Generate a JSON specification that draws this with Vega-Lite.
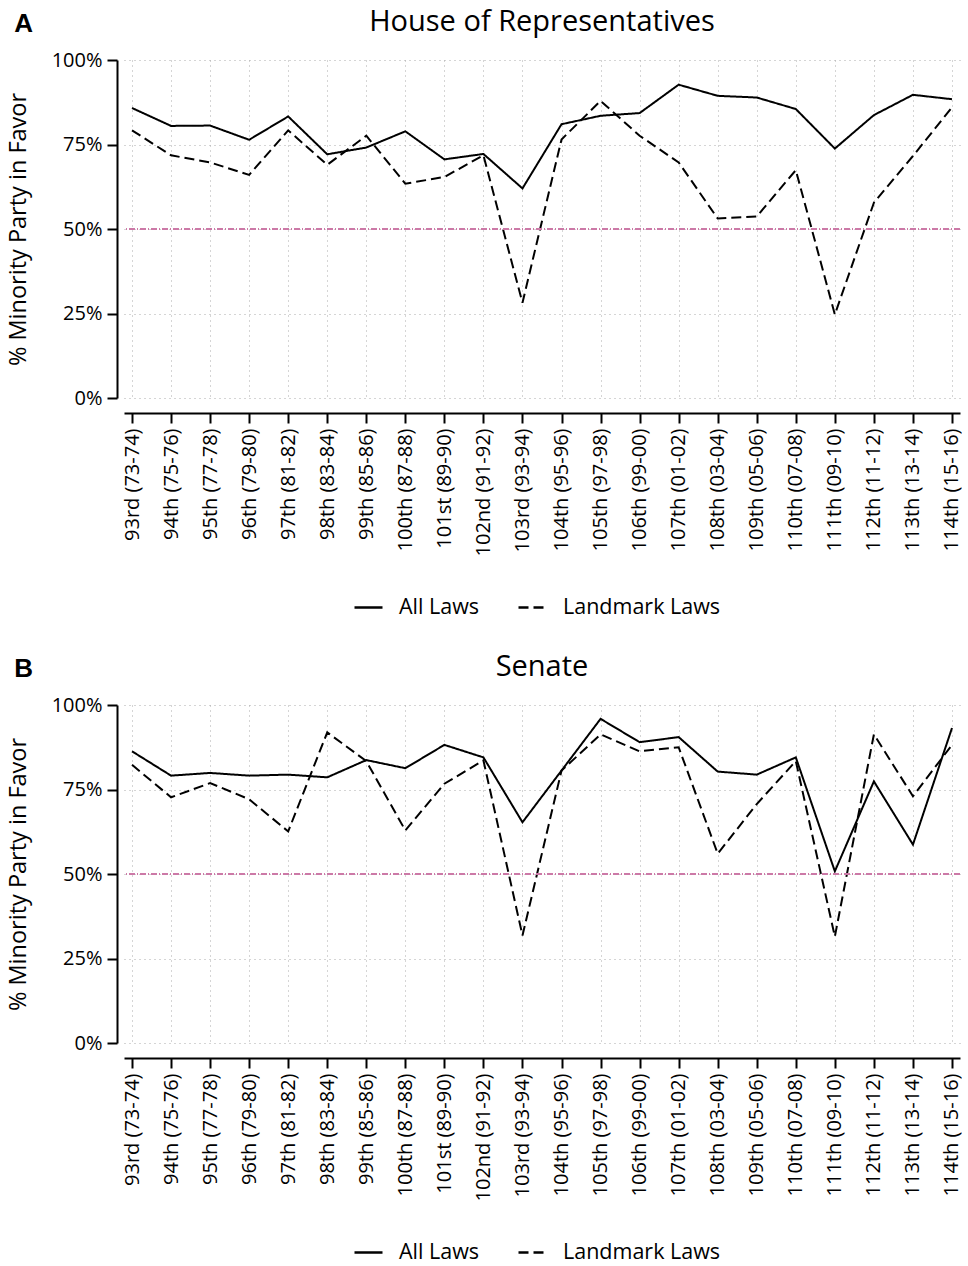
{
  "$schema": "https://vega.github.io/schema/vega-lite/v6.json",
  "padding": {"left": 6, "top": 8, "right": 0, "bottom": 0},
  "datasets": {
    "house": [
      {"congress": "93rd (73-74)", "type": "All Laws", "pct": 85.8},
      {"congress": "94th (75-76)", "type": "All Laws", "pct": 80.5},
      {"congress": "95th (77-78)", "type": "All Laws", "pct": 80.6},
      {"congress": "96th (79-80)", "type": "All Laws", "pct": 76.4},
      {"congress": "97th (81-82)", "type": "All Laws", "pct": 83.3},
      {"congress": "98th (83-84)", "type": "All Laws", "pct": 72.1},
      {"congress": "99th (85-86)", "type": "All Laws", "pct": 74.1},
      {"congress": "100th (87-88)", "type": "All Laws", "pct": 78.9},
      {"congress": "101st (89-90)", "type": "All Laws", "pct": 70.6},
      {"congress": "102nd (91-92)", "type": "All Laws", "pct": 72.2},
      {"congress": "103rd (93-94)", "type": "All Laws", "pct": 62.0},
      {"congress": "104th (95-96)", "type": "All Laws", "pct": 81.0},
      {"congress": "105th (97-98)", "type": "All Laws", "pct": 83.5},
      {"congress": "106th (99-00)", "type": "All Laws", "pct": 84.3},
      {"congress": "107th (01-02)", "type": "All Laws", "pct": 92.7},
      {"congress": "108th (03-04)", "type": "All Laws", "pct": 89.4},
      {"congress": "109th (05-06)", "type": "All Laws", "pct": 88.9},
      {"congress": "110th (07-08)", "type": "All Laws", "pct": 85.5},
      {"congress": "111th (09-10)", "type": "All Laws", "pct": 73.8},
      {"congress": "112th (11-12)", "type": "All Laws", "pct": 83.7},
      {"congress": "113th (13-14)", "type": "All Laws", "pct": 89.7},
      {"congress": "114th (15-16)", "type": "All Laws", "pct": 88.4},
      {"congress": "93rd (73-74)", "type": "Landmark Laws", "pct": 79.2},
      {"congress": "94th (75-76)", "type": "Landmark Laws", "pct": 71.8},
      {"congress": "95th (77-78)", "type": "Landmark Laws", "pct": 69.7},
      {"congress": "96th (79-80)", "type": "Landmark Laws", "pct": 66.0},
      {"congress": "97th (81-82)", "type": "Landmark Laws", "pct": 79.2},
      {"congress": "98th (83-84)", "type": "Landmark Laws", "pct": 69.0},
      {"congress": "99th (85-86)", "type": "Landmark Laws", "pct": 77.6},
      {"congress": "100th (87-88)", "type": "Landmark Laws", "pct": 63.4},
      {"congress": "101st (89-90)", "type": "Landmark Laws", "pct": 65.4},
      {"congress": "102nd (91-92)", "type": "Landmark Laws", "pct": 71.8},
      {"congress": "103rd (93-94)", "type": "Landmark Laws", "pct": 28.2},
      {"congress": "104th (95-96)", "type": "Landmark Laws", "pct": 76.5},
      {"congress": "105th (97-98)", "type": "Landmark Laws", "pct": 87.9},
      {"congress": "106th (99-00)", "type": "Landmark Laws", "pct": 77.6},
      {"congress": "107th (01-02)", "type": "Landmark Laws", "pct": 69.7},
      {"congress": "108th (03-04)", "type": "Landmark Laws", "pct": 53.1},
      {"congress": "109th (05-06)", "type": "Landmark Laws", "pct": 53.7},
      {"congress": "110th (07-08)", "type": "Landmark Laws", "pct": 67.4},
      {"congress": "111th (09-10)", "type": "Landmark Laws", "pct": 24.7},
      {"congress": "112th (11-12)", "type": "Landmark Laws", "pct": 57.8},
      {"congress": "113th (13-14)", "type": "Landmark Laws", "pct": 71.6},
      {"congress": "114th (15-16)", "type": "Landmark Laws", "pct": 86.0}
    ],
    "senate": [
      {"congress": "93rd (73-74)", "type": "All Laws", "pct": 86.3},
      {"congress": "94th (75-76)", "type": "All Laws", "pct": 79.1},
      {"congress": "95th (77-78)", "type": "All Laws", "pct": 79.9},
      {"congress": "96th (79-80)", "type": "All Laws", "pct": 79.1},
      {"congress": "97th (81-82)", "type": "All Laws", "pct": 79.4},
      {"congress": "98th (83-84)", "type": "All Laws", "pct": 78.6},
      {"congress": "99th (85-86)", "type": "All Laws", "pct": 83.7},
      {"congress": "100th (87-88)", "type": "All Laws", "pct": 81.3},
      {"congress": "101st (89-90)", "type": "All Laws", "pct": 88.2},
      {"congress": "102nd (91-92)", "type": "All Laws", "pct": 84.5},
      {"congress": "103rd (93-94)", "type": "All Laws", "pct": 65.3},
      {"congress": "104th (95-96)", "type": "All Laws", "pct": 80.6},
      {"congress": "105th (97-98)", "type": "All Laws", "pct": 95.9},
      {"congress": "106th (99-00)", "type": "All Laws", "pct": 89.0},
      {"congress": "107th (01-02)", "type": "All Laws", "pct": 90.5},
      {"congress": "108th (03-04)", "type": "All Laws", "pct": 80.3},
      {"congress": "109th (05-06)", "type": "All Laws", "pct": 79.4},
      {"congress": "110th (07-08)", "type": "All Laws", "pct": 84.5},
      {"congress": "111th (09-10)", "type": "All Laws", "pct": 50.8},
      {"congress": "112th (11-12)", "type": "All Laws", "pct": 77.4},
      {"congress": "113th (13-14)", "type": "All Laws", "pct": 58.7},
      {"congress": "114th (15-16)", "type": "All Laws", "pct": 93.2},
      {"congress": "93rd (73-74)", "type": "Landmark Laws", "pct": 82.3},
      {"congress": "94th (75-76)", "type": "Landmark Laws", "pct": 72.7},
      {"congress": "95th (77-78)", "type": "Landmark Laws", "pct": 76.9},
      {"congress": "96th (79-80)", "type": "Landmark Laws", "pct": 72.1},
      {"congress": "97th (81-82)", "type": "Landmark Laws", "pct": 62.6},
      {"congress": "98th (83-84)", "type": "Landmark Laws", "pct": 91.9},
      {"congress": "99th (85-86)", "type": "Landmark Laws", "pct": 83.4},
      {"congress": "100th (87-88)", "type": "Landmark Laws", "pct": 62.9},
      {"congress": "101st (89-90)", "type": "Landmark Laws", "pct": 76.7},
      {"congress": "102nd (91-92)", "type": "Landmark Laws", "pct": 83.6},
      {"congress": "103rd (93-94)", "type": "Landmark Laws", "pct": 31.8},
      {"congress": "104th (95-96)", "type": "Landmark Laws", "pct": 80.6},
      {"congress": "105th (97-98)", "type": "Landmark Laws", "pct": 91.3},
      {"congress": "106th (99-00)", "type": "Landmark Laws", "pct": 86.3},
      {"congress": "107th (01-02)", "type": "Landmark Laws", "pct": 87.5},
      {"congress": "108th (03-04)", "type": "Landmark Laws", "pct": 56.0},
      {"congress": "109th (05-06)", "type": "Landmark Laws", "pct": 70.7},
      {"congress": "110th (07-08)", "type": "Landmark Laws", "pct": 83.4},
      {"congress": "111th (09-10)", "type": "Landmark Laws", "pct": 31.5},
      {"congress": "112th (11-12)", "type": "Landmark Laws", "pct": 91.3},
      {"congress": "113th (13-14)", "type": "Landmark Laws", "pct": 73.0},
      {"congress": "114th (15-16)", "type": "Landmark Laws", "pct": 88.2}
    ]
  },
  "vconcat": [
    {
      "title": {"text": "A", "anchor": "start", "frame": "bounds", "font": "Liberation Sans", "fontSize": 26, "fontWeight": "bold", "color": "black", "offset": -29, "dx": 8},
      "vconcat": [
        {
          "title": {"text": "House of Representatives", "font": "Open Sans", "fontSize": 29, "fontWeight": "normal", "color": "black", "anchor": "middle", "offset": 13},
          "width": 836,
          "height": 338,
          "layer": [
            {
              "data": {"name": "house"},
              "mark": {"type": "line", "strokeWidth": 2, "color": "black"},
              "encoding": {
                "x": {"field": "congress", "type": "ordinal", "sort": null, "scale": {"type": "point", "padding": 0.205},
                      "axis": {"title": null, "labelAngle": -90, "offset": 15, "tickSize": 10, "labelPadding": 5, "grid": true}},
                "y": {"field": "pct", "type": "quantitative", "scale": {"domain": [0, 100], "nice": false},
                      "axis": {"title": "% Minority Party in Favor", "values": [0, 25, 50, 75, 100], "labelExpr": "datum.value + '%'", "offset": 7, "tickSize": 10, "labelPadding": 5, "titlePadding": 21, "grid": true}},
                "strokeDash": {"field": "type", "type": "nominal", "scale": {"domain": ["All Laws", "Landmark Laws"], "range": [[1, 0], [10, 5]]},
                               "legend": {"title": null, "orient": "none", "direction": "horizontal", "legendX": 229, "legendY": 532}}
              }
            },
            {
              "data": {"values": [{"ref": 50}]},
              "mark": {"type": "rule", "color": "#CC79A7", "strokeWidth": 1.8, "strokeDash": [6, 2, 1, 2]},
              "encoding": {"y": {"field": "ref", "type": "quantitative"}}
            }
          ]
        }
      ]
    },
    {
      "title": {"text": "B", "anchor": "start", "frame": "bounds", "font": "Liberation Sans", "fontSize": 26, "fontWeight": "bold", "color": "black", "offset": -29, "dx": 8},
      "vconcat": [
        {
          "title": {"text": "Senate", "font": "Open Sans", "fontSize": 29, "fontWeight": "normal", "color": "black", "anchor": "middle", "offset": 13},
          "width": 836,
          "height": 338,
          "layer": [
            {
              "data": {"name": "senate"},
              "mark": {"type": "line", "strokeWidth": 2, "color": "black"},
              "encoding": {
                "x": {"field": "congress", "type": "ordinal", "sort": null, "scale": {"type": "point", "padding": 0.205},
                      "axis": {"title": null, "labelAngle": -90, "offset": 15, "tickSize": 10, "labelPadding": 5, "grid": true}},
                "y": {"field": "pct", "type": "quantitative", "scale": {"domain": [0, 100], "nice": false},
                      "axis": {"title": "% Minority Party in Favor", "values": [0, 25, 50, 75, 100], "labelExpr": "datum.value + '%'", "offset": 7, "tickSize": 10, "labelPadding": 5, "titlePadding": 21, "grid": true}},
                "strokeDash": {"field": "type", "type": "nominal", "scale": {"domain": ["All Laws", "Landmark Laws"], "range": [[1, 0], [10, 5]]},
                               "legend": {"title": null, "orient": "none", "direction": "horizontal", "legendX": 229, "legendY": 532}}
              }
            },
            {
              "data": {"values": [{"ref": 50}]},
              "mark": {"type": "rule", "color": "#CC79A7", "strokeWidth": 1.8, "strokeDash": [6, 2, 1, 2]},
              "encoding": {"y": {"field": "ref", "type": "quantitative"}}
            }
          ]
        }
      ]
    }
  ],
  "spacing": 35,
  "resolve": {"scale": {"strokeDash": "independent"}, "legend": {"strokeDash": "independent"}},
  "config": {
    "view": {"stroke": null},
    "axis": {
      "domainColor": "black", "domainWidth": 2, "tickColor": "black", "tickWidth": 2,
      "labelColor": "black", "labelFont": "Open Sans", "labelFontSize": 20,
      "titleColor": "black", "titleFont": "Open Sans", "titleFontSize": 23.5, "titleFontWeight": "normal",
      "gridColor": "#aaaaaa", "gridDash": [1, 4], "gridWidth": 1
    },
    "legend": {
      "labelFont": "Open Sans", "labelFontSize": 21.5, "labelColor": "black", "labelLimit": 400,
      "symbolType": "stroke", "symbolSize": 784, "symbolStrokeWidth": 2.5, "symbolStrokeColor": "black",
      "columnPadding": 33, "labelOffset": 15
    }
  }
}
